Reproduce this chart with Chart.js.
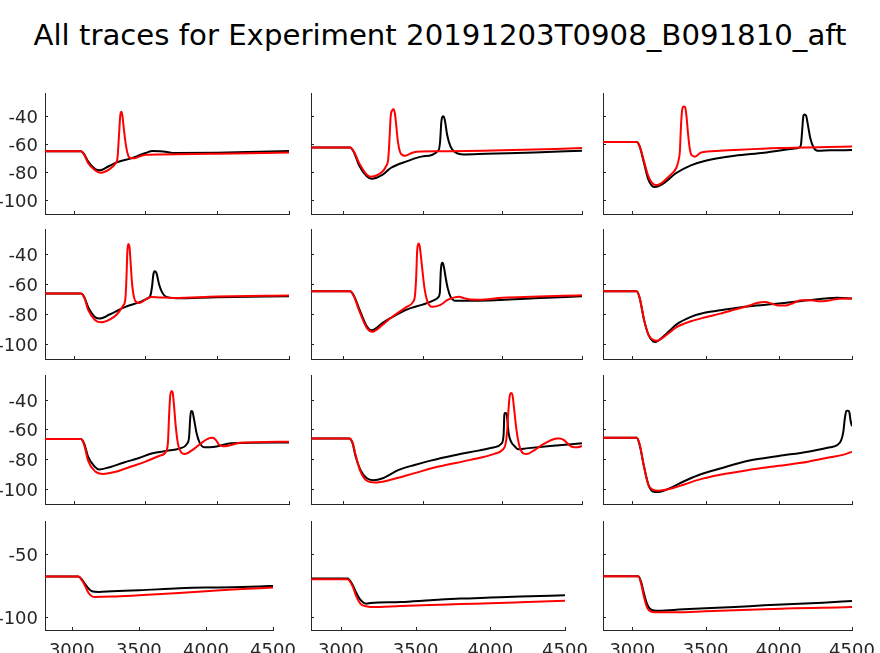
<!DOCTYPE html>
<html>
<head>
<meta charset="utf-8">
<script src="https://cdn.jsdelivr.net/npm/chart.js@4.4.1/dist/chart.umd.min.js"></script>
<style>
  body { margin: 0; background: #fff; width: 880px; height: 653px; overflow: hidden; position: relative; }
  #title { position: absolute; left: 0; top: 21px; width: 880px; text-align: center; font-family: "DejaVu Sans"; font-size: 29.2px; line-height: 29px; color: #000; }
  canvas { position: absolute; }
</style>
</head>
<body>
<div id="title">All traces for Experiment 20191203T0908_B091810_aft</div>
<script>
// tick labels
var xTicks = [3000, 3500, 4000, 4500];
var yTicks = [-40, -60, -80, -100];
var yTicksBottom = [-50, -100];

// traces, [time, mV], panels numbered row by row
var p1Black = [[2800,-65.2],[3050,-65.2],[3075,-67.5],[3100,-72.4],[3150,-77.9],[3180,-78.8],[3250,-75.5],[3300,-73.1],[3400,-70.2],[3450,-68.3],[3500,-66.4],[3550,-65],[3600,-65.2],[3650,-65.7],[3700,-66.4],[4000,-66.2],[4300,-65.5],[4500,-65]];
var p1Red = [[2800,-65.2],[3050,-65.2],[3075,-68],[3100,-73.6],[3150,-78.8],[3190,-80.5],[3250,-77.9],[3290,-74],[3305,-70],[3315,-54.5],[3325,-39],[3332,-36.9],[3340,-40.2],[3350,-49.8],[3365,-61.7],[3380,-68.3],[3400,-70.2],[3430,-70],[3500,-67.6],[3600,-67.4],[4000,-66.9],[4500,-66]];

var p2Black = [[2800,-62.4],[3045,-62.4],[3070,-66],[3100,-74.8],[3150,-83.1],[3180,-84.8],[3250,-81.9],[3300,-77.1],[3400,-72.4],[3500,-68.8],[3600,-64.5],[3610,-58],[3617,-45],[3624,-40.5],[3630,-40.2],[3638,-42],[3654,-53.3],[3675,-61.7],[3700,-65.5],[3758,-67.4],[3900,-66.9],[4200,-66],[4500,-64.8]];
var p2Red = [[2800,-62.4],[3045,-62.4],[3070,-65.5],[3100,-73.1],[3150,-81.9],[3175,-83.3],[3250,-79.5],[3270,-76],[3285,-70],[3293,-55],[3300,-40],[3310,-35.8],[3318,-35.2],[3326,-38],[3335,-47],[3345,-58],[3358,-65.5],[3375,-68],[3393,-68.3],[3440,-66],[3490,-65.3],[3600,-65.2],[4000,-64.5],[4500,-62.9]];

var p3Black = [[2800,-58.6],[3030,-58.6],[3050,-61.7],[3080,-73.6],[3110,-85.5],[3150,-90.7],[3200,-89],[3300,-80.7],[3400,-75.2],[3500,-71.9],[3700,-68.3],[3900,-66.2],[4100,-63.3],[4140,-62.5],[4152,-60],[4160,-50],[4168,-40],[4176,-38.8],[4186,-39.5],[4200,-47],[4215,-55.7],[4238,-62.5],[4265,-64.8],[4350,-64.5],[4500,-64.3]];
var p3Red = [[2800,-58.6],[3030,-58.6],[3050,-61.5],[3080,-72.4],[3110,-83.1],[3150,-89],[3170,-89.3],[3250,-83.1],[3300,-77.1],[3315,-72],[3325,-65],[3332,-48],[3340,-36],[3350,-33.1],[3360,-33.5],[3370,-40],[3380,-52],[3392,-63],[3405,-68],[3428,-69],[3470,-66],[3600,-64.8],[4000,-62.9],[4500,-61.7]];

var p4Black = [[2800,-66.4],[3050,-66.4],[3075,-69],[3100,-75.3],[3150,-82.2],[3180,-83.1],[3250,-80.4],[3360,-75.3],[3460,-72.2],[3506,-70],[3534,-67.8],[3546,-61.6],[3555,-53.8],[3564,-51.6],[3576,-52.7],[3595,-60.4],[3618,-66],[3646,-68.7],[3715,-69.6],[4000,-68.9],[4500,-68.2]];
var p4Red = [[2800,-66.4],[3050,-66.4],[3075,-69.5],[3100,-77.1],[3150,-84.2],[3190,-85.6],[3250,-83.8],[3300,-80.4],[3344,-74.5],[3360,-70],[3368,-55],[3374,-38],[3380,-33.5],[3388,-35],[3396,-45],[3405,-58],[3418,-68],[3437,-72.2],[3460,-72.7],[3500,-70.5],[3540,-68.7],[3600,-69],[3700,-69.4],[4000,-68.4],[4500,-67.8]];

var p5Black = [[2800,-64.9],[3045,-64.9],[3070,-68],[3100,-76],[3150,-88.2],[3180,-90.9],[3250,-86],[3300,-82.7],[3400,-77.1],[3500,-73.8],[3570,-71],[3598,-69],[3608,-66],[3614,-52],[3620,-46.5],[3626,-46],[3634,-49],[3645,-56],[3658,-63],[3675,-68.5],[3706,-71.3],[3800,-71.3],[4200,-69.6],[4500,-68.2]];
var p5Red = [[2800,-64.9],[3045,-64.9],[3070,-68.5],[3100,-77.1],[3150,-89.3],[3185,-91.8],[3250,-87.1],[3300,-82.7],[3400,-75.3],[3440,-72],[3452,-68],[3460,-55],[3466,-38],[3474,-33.1],[3482,-35],[3490,-42],[3500,-52],[3512,-63],[3528,-71],[3545,-74.5],[3560,-75.3],[3612,-74],[3654,-70.9],[3700,-69],[3727,-68.5],[3760,-69.5],[3800,-70.4],[3850,-70.5],[4000,-69.3],[4500,-67.6]];

var p6Black = [[2800,-64.9],[3030,-64.9],[3050,-69.3],[3080,-83.8],[3110,-93.8],[3140,-98.2],[3160,-98.7],[3200,-96],[3250,-91.6],[3300,-87.1],[3400,-82],[3500,-79.1],[3600,-77.6],[3800,-74.9],[4000,-73.1],[4200,-70.9],[4400,-69.3],[4500,-69.8]];
var p6Red = [[2800,-64.9],[3030,-64.9],[3050,-69.3],[3080,-83.8],[3110,-93.8],[3140,-97.1],[3170,-97.8],[3200,-96.4],[3250,-92.7],[3300,-88.9],[3400,-84.9],[3500,-82.2],[3600,-79.8],[3700,-77.1],[3800,-74.4],[3850,-72.7],[3910,-72],[3950,-73.1],[4000,-74.4],[4050,-74.4],[4100,-72.7],[4150,-70.9],[4220,-70.9],[4280,-71.6],[4350,-70.9],[4400,-70],[4500,-69.8]];

var p7Black = [[2800,-66.4],[3050,-66.4],[3075,-70],[3100,-78.2],[3150,-85.3],[3175,-86.9],[3250,-85.3],[3350,-82.2],[3450,-79.3],[3550,-76],[3646,-74.4],[3739,-72.7],[3790,-69.5],[3804,-65],[3812,-52],[3818,-47.6],[3826,-47.8],[3838,-53],[3855,-62],[3878,-69],[3913,-72],[3971,-71.8],[4100,-69.3],[4500,-68.7]];
var p7Red = [[2800,-66.4],[3050,-66.4],[3075,-71],[3100,-80.9],[3150,-88.2],[3200,-89.8],[3300,-88.2],[3400,-84.9],[3500,-81.6],[3600,-77.6],[3646,-74.5],[3657,-68],[3664,-52],[3672,-38],[3682,-34.2],[3690,-35.5],[3699,-44],[3711,-58],[3727,-70],[3750,-75.5],[3773,-76.4],[3831,-73.5],[3878,-70],[3930,-66.5],[3966,-65.6],[3990,-67],[4010,-70],[4040,-71.3],[4087,-70.7],[4157,-69],[4500,-68.2]];

var p8Black = [[2800,-66],[3040,-66],[3060,-69],[3080,-78.2],[3110,-87.1],[3150,-92.7],[3190,-94],[3250,-92.7],[3350,-87.1],[3450,-83.8],[3550,-80.9],[3700,-77.3],[3850,-74.2],[3950,-72],[3995,-69.5],[4008,-64],[4013,-50],[4018,-48.9],[4026,-49.2],[4032,-54],[4040,-62.7],[4055,-68.2],[4080,-71.6],[4100,-73.3],[4150,-72.7],[4300,-71.1],[4500,-69.3]];
var p8Red = [[2800,-66],[3040,-66],[3060,-68.5],[3080,-77.1],[3110,-88.2],[3150,-94.4],[3200,-95.6],[3300,-93.8],[3450,-89.3],[3600,-84.9],[3800,-80.4],[3950,-76.4],[4000,-73.8],[4020,-70],[4030,-62],[4038,-48],[4046,-38],[4056,-35.5],[4064,-37],[4072,-44],[4084,-56],[4097,-66],[4113,-73],[4135,-76.2],[4155,-76.4],[4200,-74],[4250,-70.4],[4300,-67.5],[4340,-66],[4360,-66],[4385,-67],[4410,-69.5],[4437,-71.6],[4470,-72],[4500,-71.1]];

var p9Black = [[2800,-65.6],[3030,-65.6],[3050,-70.4],[3080,-84.9],[3110,-97.1],[3140,-101.6],[3180,-102],[3250,-99.8],[3350,-94.9],[3450,-90.7],[3600,-86.2],[3800,-80.9],[4000,-77.8],[4200,-74.9],[4350,-72],[4400,-70.4],[4425,-67.5],[4440,-62],[4452,-52],[4462,-47.6],[4472,-47.4],[4482,-48.5],[4490,-54],[4500,-57.8]];
var p9Red = [[2800,-65.6],[3030,-65.6],[3050,-69.8],[3080,-84.9],[3110,-97.1],[3140,-100.4],[3180,-101.1],[3250,-100],[3350,-97.1],[3450,-93.8],[3600,-90.4],[3800,-87.1],[4000,-84.4],[4200,-81.6],[4350,-78.7],[4450,-76.7],[4500,-74.9]];

var p10Black = [[2800,-67.6],[3050,-67.6],[3075,-69.9],[3100,-73.7],[3125,-77.1],[3150,-79.3],[3200,-79.8],[3300,-79.3],[3500,-78.5],[3800,-76.9],[4000,-76.3],[4200,-76.1],[4400,-75.5],[4500,-75]];
var p10Red = [[2800,-67.6],[3050,-67.6],[3075,-70.5],[3100,-75.3],[3125,-80.6],[3150,-83.2],[3170,-83.8],[3300,-83.5],[3500,-82.4],[3800,-80.6],[4000,-79.3],[4200,-77.9],[4400,-76.9],[4500,-76.3]];

var p11Black = [[2800,-69.1],[3045,-69.1],[3080,-74.5],[3100,-79.8],[3130,-85.9],[3170,-89.1],[3200,-88.6],[3400,-87.8],[3600,-86.4],[3800,-85.1],[4000,-84.3],[4200,-83.5],[4500,-82.4]];
var p11Red = [[2800,-69.7],[3045,-69.7],[3080,-75.8],[3100,-82.4],[3130,-89.1],[3170,-91.2],[3200,-91.8],[3400,-91],[3600,-90.2],[3800,-89.4],[4000,-88.8],[4200,-88],[4500,-86.7]];

var p12Black = [[2800,-67.3],[3041,-67.3],[3060,-71.8],[3080,-81.1],[3100,-89.1],[3120,-93.1],[3160,-94.7],[3300,-93.9],[3500,-92.8],[3700,-91.8],[3900,-90.4],[4100,-89.4],[4300,-88.3],[4500,-87]];
var p12Red = [[2800,-67.3],[3041,-67.3],[3060,-73.1],[3080,-83.8],[3100,-91.8],[3120,-95],[3160,-96],[3300,-96],[3500,-95.2],[3700,-94.4],[3900,-93.6],[4100,-92.8],[4300,-92.3],[4500,-91.8]];

var blackTraces = [p1Black, p2Black, p3Black, p4Black, p5Black, p6Black, p7Black, p8Black, p9Black, p10Black, p11Black, p12Black];
var redTraces = [p1Red, p2Red, p3Red, p4Red, p5Red, p6Red, p7Red, p8Red, p9Red, p10Red, p11Red, p12Red];

// axes boxes in page pixels
var colLeft = [45, 311, 603];
var colRight = [289, 582, 852];
var colRightBottom = [273, 565, 852];
var rowTop = [93, 229, 375, 521];
var rowBottom = [214, 359, 504, 630];

var axisColor = '#262626';
var labelFont = '18px "DejaVu Sans"';

// matlab style ticks pointing inwards, labels drawn here too
var innerTicks = {
  id: 'innerTicks',
  afterDraw: function(chart, args, opts) {
    var ctx = chart.ctx;
    var area = chart.chartArea;
    var xs = chart.scales.x;
    var ys = chart.scales.y;
    ctx.save();
    ctx.strokeStyle = axisColor;
    ctx.lineWidth = 1;
    ctx.beginPath();
    xs.ticks.forEach(function(t) {
      var px = Math.round(xs.getPixelForValue(t.value)) + 0.5;
      ctx.moveTo(px, area.bottom);
      ctx.lineTo(px, area.bottom - 3);
    });
    ys.ticks.forEach(function(t) {
      var py = Math.round(ys.getPixelForValue(t.value)) + 0.5;
      ctx.moveTo(area.left, py);
      ctx.lineTo(area.left + 3, py);
    });
    ctx.stroke();

    ctx.fillStyle = axisColor;
    ctx.font = labelFont;
    ctx.textBaseline = 'alphabetic';
    if (opts.yLabels) {
      ctx.textAlign = 'right';
      ys.ticks.forEach(function(t) {
        ctx.fillText(String(t.value), area.left - 7, ys.getPixelForValue(t.value) + 7);
      });
    }
    if (opts.xLabels) {
      ctx.textAlign = 'center';
      xs.ticks.forEach(function(t) {
        ctx.fillText(String(t.value), xs.getPixelForValue(t.value), area.bottom + 26);
      });
    }
    ctx.restore();
  }
};

function makePanel(index) {
  var row = Math.floor(index / 3);
  var col = index % 3;
  var isBottom = row === 3;
  var left = colLeft[col];
  var right = isBottom ? colRightBottom[col] : colRight[col];
  var top = rowTop[row];
  var bottom = rowBottom[row];

  var canvas = document.createElement('canvas');
  canvas.width = right - left + 45 + 30;
  canvas.height = bottom - top + 12 + 40;
  canvas.style.left = (left - 45) + 'px';
  canvas.style.top = (top - 12) + 'px';
  document.body.appendChild(canvas);

  var yValues = isBottom ? yTicksBottom : yTicks;

  new Chart(canvas.getContext('2d'), {
    type: 'line',
    data: {
      datasets: [{
        data: redTraces[index],
        borderColor: '#ff0000',
        borderWidth: 2,
        pointRadius: 0,
        cubicInterpolationMode: 'monotone'
      }, {
        data: blackTraces[index],
        borderColor: '#000000',
        borderWidth: 2,
        pointRadius: 0,
        cubicInterpolationMode: 'monotone'
      }]
    },
    options: {
      responsive: false,
      animation: false,
      events: [],
      layout: { padding: { left: 0, top: 12, right: 30, bottom: 0 } },
      plugins: {
        legend: { display: false },
        tooltip: { enabled: false },
        innerTicks: { xLabels: isBottom, yLabels: col === 0 }
      },
      scales: {
        x: {
          type: 'linear',
          min: 2800,
          max: 4500,
          afterBuildTicks: function(s) { s.ticks = xTicks.map(function(v) { return { value: v }; }); },
          afterFit: function(s) { s.height = 40; s.paddingLeft = 0; s.paddingRight = 0; },
          grid: { display: false, drawTicks: false },
          border: { display: true, color: axisColor, width: 1 },
          ticks: { display: false }
        },
        y: {
          min: -110,
          max: -23.5,
          afterBuildTicks: function(s) { s.ticks = yValues.map(function(v) { return { value: v }; }); },
          afterFit: function(s) { s.width = 45; s.paddingTop = 0; s.paddingBottom = 0; },
          grid: { display: false, drawTicks: false },
          border: { display: true, color: axisColor, width: 1 },
          ticks: { display: false }
        }
      }
    },
    plugins: [innerTicks]
  });
}

for (var i = 0; i < 12; i++) {
  makePanel(i);
}
</script>
</body>
</html>
